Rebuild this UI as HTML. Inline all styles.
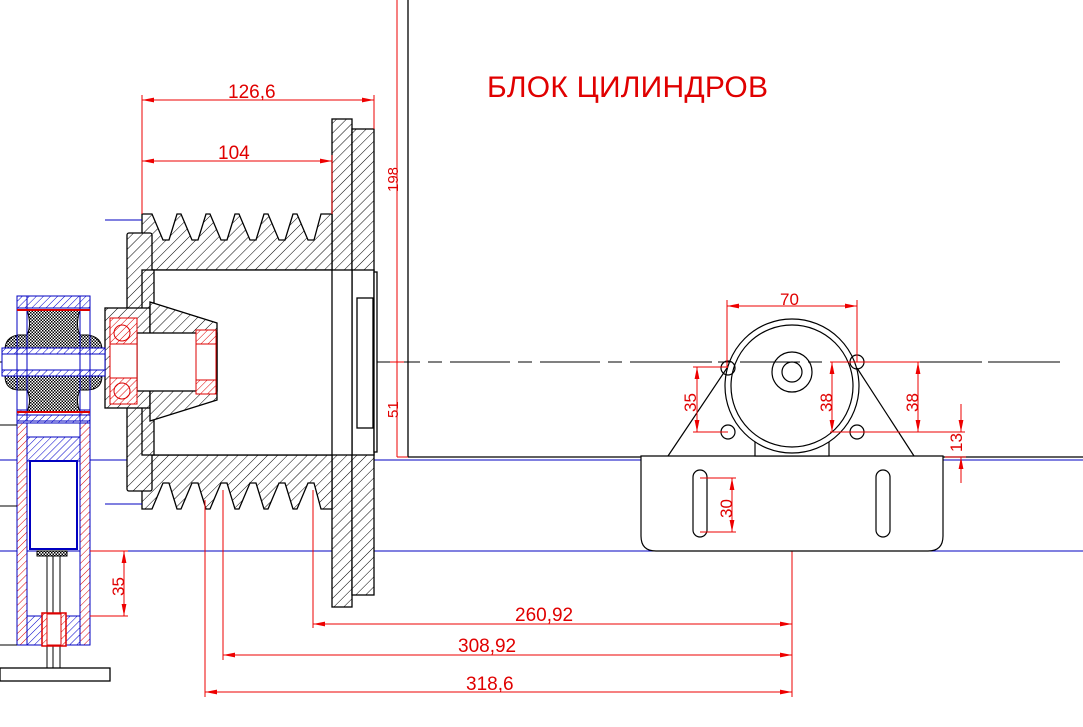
<!DOCTYPE html>
<html><head><meta charset="utf-8"><style>
html,body{margin:0;padding:0;background:#fff;}
svg{display:block;}
text{font-family:"Liberation Sans",sans-serif;fill:#e00000;}
</style></head><body>
<svg width="1083" height="727" viewBox="0 0 1083 727" xmlns="http://www.w3.org/2000/svg">
<defs>
<pattern id="h" width="7" height="7" patternUnits="userSpaceOnUse" patternTransform="rotate(45)">
<rect width="7" height="7" fill="#fff"/><line x1="0" y1="0" x2="0" y2="7" stroke="#000" stroke-width="1"/></pattern>
<pattern id="hr" width="5" height="5" patternUnits="userSpaceOnUse" patternTransform="rotate(45)">
<rect width="5" height="5" fill="#fff"/><line x1="0" y1="0" x2="0" y2="5" stroke="#d00" stroke-width="1"/></pattern>
<pattern id="hb" width="5" height="5" patternUnits="userSpaceOnUse" patternTransform="rotate(45)">
<rect width="5" height="5" fill="#fff"/><line x1="0" y1="0" x2="0" y2="5" stroke="#00c" stroke-width="1"/></pattern>
<pattern id="ck" width="3" height="3" patternUnits="userSpaceOnUse">
<rect width="3" height="3" fill="#fff"/><rect width="1.5" height="1.5" fill="#000"/><rect x="1.5" y="1.5" width="1.5" height="1.5" fill="#000"/></pattern>
<marker id="a" viewBox="0 0 10 4" refX="10" refY="2" markerWidth="12" markerHeight="5" orient="auto-start-reverse" markerUnits="userSpaceOnUse"><path d="M0,0L10,2L0,4z" fill="#e00"/></marker>
</defs>

<line x1="0" y1="460" x2="1083" y2="460" stroke="#0000c0"/>
<line x1="0" y1="551" x2="1083" y2="551" stroke="#0000c0"/>

<line x1="408" y1="0" x2="408" y2="457" stroke="#000" stroke-width="1.3"/>
<line x1="408" y1="457" x2="1083" y2="457" stroke="#000" stroke-width="1.3"/>
<text x="487" y="97" font-size="30" textLength="281" lengthAdjust="spacing" style="font-weight:300">БЛОК  ЦИЛИНДРОВ</text>

<line x1="0" y1="362" x2="1060" y2="362" stroke="#000" stroke-dasharray="60,8,14,8"/>

<g stroke-width="1.3">
<rect x="332" y="119" width="20" height="488" fill="url(#h)" stroke="#000"/>
<rect x="352" y="129" width="22" height="466" fill="url(#h)" stroke="#000"/>
<rect x="352" y="270" width="22" height="185" fill="#fff" stroke="#000"/>
<rect x="357" y="298" width="16" height="130" fill="#fff" stroke="#000"/>
<rect x="374" y="272" width="3" height="180" fill="#fff" stroke="#000"/>

<path d="M142,214 L152,214 L163,240 L169,240 L177,214 L181,214 L192,240 L198,240 L206,214 L210,214 L221,240 L227,240 L235,214 L239,214 L250,240 L256,240 L264,214 L268,214 L279,240 L285,240 L293,214 L297,214 L308,240 L314,240 L321,214 L332,214 L332,270 L142,270 Z" fill="url(#h)" stroke="#000"/>
<path d="M142,509 L152,509 L163,483 L169,483 L177,509 L181,509 L192,483 L198,483 L206,509 L210,509 L221,483 L227,483 L235,509 L239,509 L250,483 L256,483 L264,509 L268,509 L279,483 L285,483 L293,509 L297,509 L308,483 L314,483 L321,509 L332,509 L332,455 L142,455 Z" fill="url(#h)" stroke="#000"/>
<rect x="152" y="270" width="200" height="185" fill="#fff" stroke="#000"/>
<line x1="332" y1="270" x2="332" y2="455" stroke="#000"/>
<rect x="127" y="233" width="25" height="258" rx="2" fill="url(#h)" stroke="#000"/>
<rect x="142" y="270" width="12" height="185" fill="url(#h)" stroke="#000"/>
<rect x="105" y="308" width="45" height="100" fill="url(#h)" stroke="#000"/>
<path d="M150,302 L217,323 L217,400 L150,421 Z" fill="url(#h)" stroke="#000"/>
<rect x="137" y="333" width="80" height="58" fill="#fff" stroke="#000"/>
</g>
<rect x="110" y="318" width="27" height="86" fill="#fff" stroke="#d00"/>
<rect x="110" y="318" width="27" height="26" fill="url(#hr)" stroke="#d00"/>
<rect x="110" y="378" width="27" height="26" fill="url(#hr)" stroke="#d00"/>
<circle cx="122" cy="333" r="8" fill="none" stroke="#d00"/>
<circle cx="122" cy="391" r="8" fill="none" stroke="#d00"/>
<rect x="196" y="330" width="20" height="64" fill="#fff" stroke="#d00"/>
<rect x="196" y="330" width="20" height="14" fill="url(#hr)" stroke="#d00"/>
<rect x="196" y="380" width="20" height="14" fill="url(#hr)" stroke="#d00"/>
<line x1="105" y1="220" x2="142" y2="220" stroke="#0000c0"/>
<line x1="105" y1="504" x2="142" y2="504" stroke="#0000c0"/>

<g stroke="#e00" fill="none">
<line x1="142" y1="95" x2="142" y2="214"/><line x1="374" y1="95" x2="374" y2="129"/>
<line x1="332" y1="155" x2="332" y2="214"/>
<line x1="142" y1="100" x2="374" y2="100" marker-start="url(#a)" marker-end="url(#a)"/>
<line x1="142" y1="161" x2="332" y2="161" marker-start="url(#a)" marker-end="url(#a)"/>
<line x1="397" y1="0" x2="397" y2="457" />
<line x1="390" y1="362" x2="404" y2="362"/>
<line x1="397" y1="457" x2="408" y2="457"/>
</g>
<text x="228" y="98" font-size="19">126,6</text>
<text x="218" y="159" font-size="19">104</text>
<text font-size="15" transform="translate(398,192) rotate(-90)">198</text>
<text font-size="15" transform="translate(398,418) rotate(-90)">51</text>

<g stroke="#e00" fill="none">
<line x1="205" y1="500" x2="205" y2="697"/>
<line x1="223" y1="490" x2="223" y2="660"/>
<line x1="313" y1="490" x2="313" y2="628"/>
<line x1="792" y1="370" x2="792" y2="697"/>
<line x1="313" y1="624" x2="792" y2="624" marker-start="url(#a)" marker-end="url(#a)"/>
<line x1="223" y1="655" x2="792" y2="655" marker-start="url(#a)" marker-end="url(#a)"/>
<line x1="205" y1="692" x2="792" y2="692" marker-start="url(#a)" marker-end="url(#a)"/>
</g>
<text x="515" y="621" font-size="19">260,92</text>
<text x="458" y="652" font-size="19">308,92</text>
<text x="466" y="690" font-size="19">318,6</text>

<g stroke="#000" fill="none" stroke-width="1.2">
<path d="M641,456 L943,456 L943,536 Q943,551 928,551 L656,551 Q641,551 641,536 Z" fill="#fff"/>
<rect x="693" y="470" width="14" height="67" rx="7"/>
<rect x="876" y="470" width="14" height="67" rx="7"/>
<line x1="668" y1="456" x2="727" y2="368"/>
<line x1="857" y1="368" x2="914" y2="456"/>
<rect x="755" y="430" width="74" height="26" fill="#fff"/>
<circle cx="792" cy="386" r="67" fill="#fff"/>
<circle cx="792" cy="386" r="61"/>
<circle cx="792" cy="372" r="20"/>
<circle cx="792" cy="372" r="10"/>
<circle cx="728" cy="368" r="7"/>
<circle cx="857" cy="362" r="7"/>
<circle cx="728" cy="432" r="7"/>
<circle cx="857" cy="432" r="7"/>
</g>
<line x1="650" y1="362" x2="1060" y2="362" stroke="#000" stroke-dasharray="60,8,14,8"/>
<g stroke="#e00" fill="none">
<line x1="727" y1="300" x2="727" y2="368"/><line x1="857" y1="300" x2="857" y2="362"/>
<line x1="727" y1="306" x2="857" y2="306" marker-start="url(#a)" marker-end="url(#a)"/>
<line x1="693" y1="367" x2="728" y2="367"/><line x1="693" y1="432" x2="728" y2="432"/>
<line x1="697" y1="367" x2="697" y2="432" marker-start="url(#a)" marker-end="url(#a)"/>
<line x1="830" y1="362" x2="920" y2="362"/><line x1="830" y1="432" x2="965" y2="432"/>
<line x1="832" y1="362" x2="832" y2="432" marker-start="url(#a)" marker-end="url(#a)"/>
<line x1="918" y1="362" x2="918" y2="432" marker-start="url(#a)" marker-end="url(#a)"/>
<line x1="961" y1="404" x2="961" y2="432" marker-end="url(#a)"/>
<line x1="961" y1="483" x2="961" y2="457" marker-end="url(#a)"/>
<line x1="945" y1="457" x2="966" y2="457"/>
<line x1="700" y1="478" x2="736" y2="478"/><line x1="700" y1="532" x2="736" y2="532"/>
<line x1="732" y1="478" x2="732" y2="532" marker-start="url(#a)" marker-end="url(#a)"/>
</g>
<text x="780" y="305" font-size="17">70</text>
<text font-size="17" transform="translate(696,412) rotate(-90)">35</text>
<text font-size="17" transform="translate(832,412) rotate(-90)">38</text>
<text font-size="17" transform="translate(918,412) rotate(-90)">38</text>
<text font-size="17" transform="translate(962,452) rotate(-90)">13</text>
<text font-size="17" transform="translate(732,518) rotate(-90)">30</text>

<rect x="17" y="410" width="10" height="235" fill="url(#hr)" stroke="#0000c0"/>
<rect x="80" y="410" width="10" height="235" fill="url(#hr)" stroke="#0000c0"/>
<rect x="17" y="296" width="73" height="12" fill="url(#hb)" stroke="#0000c0"/>
<rect x="17" y="415" width="73" height="8" fill="url(#hb)" stroke="#0000c0"/>
<path d="M27,310 L80,310 Q75,325 80,335 L88,335 Q102,337 102,350 L102,376 Q102,389 88,390 L80,390 Q75,400 80,412 L27,412 Q32,400 27,390 L18,390 Q5,389 5,376 L5,350 Q5,337 18,335 L27,335 Q32,325 27,310 Z" fill="url(#ck)" stroke="#000"/>
<rect x="2" y="348" width="103" height="28" fill="url(#hb)" stroke="#0000c0"/>
<rect x="2" y="354" width="103" height="16" fill="#fff" stroke="#0000c0"/>
<rect x="17" y="296" width="73" height="125" fill="none" stroke="#0000c0"/>
<rect x="27" y="296" width="53" height="125" fill="none" stroke="#0000c0"/>
<line x1="17" y1="310" x2="90" y2="310" stroke="#d00" stroke-width="2"/>
<line x1="17" y1="412" x2="90" y2="412" stroke="#d00" stroke-width="2"/>
<rect x="27" y="423" width="53" height="14" fill="#fff" stroke="#0000c0"/>
<rect x="27" y="437" width="53" height="24" fill="url(#hb)" stroke="#0000c0"/>
<rect x="30" y="461" width="47" height="88" fill="#fff" stroke="#0000c0" stroke-width="2"/>
<rect x="37" y="551" width="30" height="5" fill="url(#ck)" stroke="#000"/>
<line x1="47" y1="556" x2="47" y2="668" stroke="#000"/><line x1="53" y1="556" x2="53" y2="668" stroke="#000"/><line x1="60" y1="556" x2="60" y2="668" stroke="#000"/>
<rect x="27" y="616" width="53" height="29" fill="url(#hb)" stroke="#0000c0"/>
<rect x="42" y="613" width="24" height="33" fill="url(#hr)" stroke="#d00" stroke-width="1.5"/>
<rect x="47" y="614" width="14" height="31" fill="#fff" stroke="#d00"/>
<line x1="0" y1="645" x2="17" y2="645" stroke="#000"/>
<rect x="0" y="668" width="110" height="13" fill="#fff" stroke="#000" stroke-width="1.3"/>
<line x1="0" y1="425" x2="17" y2="425" stroke="#000"/>
<line x1="0" y1="506" x2="17" y2="506" stroke="#000"/>
<g stroke="#e00" fill="none">
<line x1="90" y1="551" x2="128" y2="551"/><line x1="90" y1="616" x2="128" y2="616"/>
<line x1="124" y1="551" x2="124" y2="616" marker-start="url(#a)" marker-end="url(#a)"/>
</g>
<text font-size="17" transform="translate(124,596) rotate(-90)">35</text>
</svg>
</body></html>
